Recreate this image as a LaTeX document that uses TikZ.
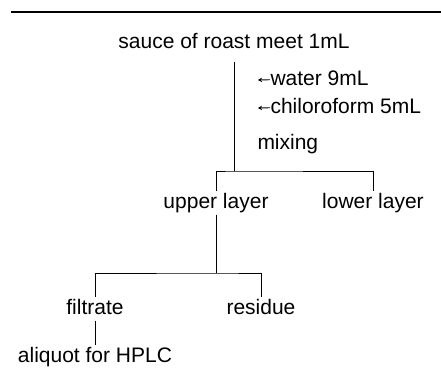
\documentclass[tikz,border=0pt]{standalone}
\usepackage{fontspec}
\setmainfont{Liberation Sans}
\usepackage{tikz}
\usetikzlibrary{arrows.meta}
\usetikzlibrary{positioning}

\begin{document}
\begin{tikzpicture}[
    x=1pt, y=-1pt,
    >={Stealth[length=4pt, width=4.5pt]},
    lbl/.style={font=\fontsize{21}{25}\selectfont, inner sep=0pt, outer sep=2pt,
                text height=15pt, text depth=4.5pt},
    add_lbl/.style={lbl, anchor=base west, outer sep=0.5pt},
    tree_line/.style={black, line width=0.9pt},
    rule_line/.style={black, line width=1.3pt}
  ]

  \useasboundingbox (0,0) rectangle (441,367);

  % 1. Linjen överst
  \coordinate (ruleL) at (11,12);
  \coordinate (ruleR) at (441,12);
  \draw[rule_line] (ruleL) -- (ruleR);

  % 2. Provet och tillsatserna
  \node[lbl, anchor=base] (sauce) at (234,48) {sauce of roast meet 1mL};
  \node[add_lbl] (water) at (270,85) {water 9mL};
  \node[add_lbl] (chloro) at (270,113) {chiloroform 5mL};
  \node[add_lbl] (mixing) at (257,149) {mixing};
  \coordinate (waterTip) at (258,80);
  \coordinate (chloroTip) at (258,108);
  \draw[tree_line, ->] (water.west) -- (waterTip);
  \draw[tree_line, ->] (chloro.west) -- (chloroTip);

  % 3. Första uppdelningen
  \coordinate (split1) at (234,171);
  \node[lbl, anchor=base] (upper) at (216,208) {upper layer};
  \node[lbl, anchor=base] (lower) at (373,208) {lower layer};
  \draw[tree_line, shorten <=7pt] (sauce.south) -- (split1);
  \draw[tree_line] (upper.north) |- (split1) -| (lower.north);

  % 4. Andra uppdelningen
  \coordinate (split2) at (216,273);
  \node[lbl, anchor=base] (filtrate) at (95,314) {filtrate};
  \node[lbl, anchor=base] (residue) at (261,314) {residue};
  \draw[tree_line] (upper.south) -- (split2);
  \draw[tree_line] (filtrate.north) |- (split2) -| (residue.north);

  % 5. Alikvot till HPLC
  \node[lbl, anchor=base] (aliquot) at (95,362) {aliquot for HPLC};
  \draw[tree_line] (filtrate.south) -- (aliquot.north);

\end{tikzpicture}
\end{document}
